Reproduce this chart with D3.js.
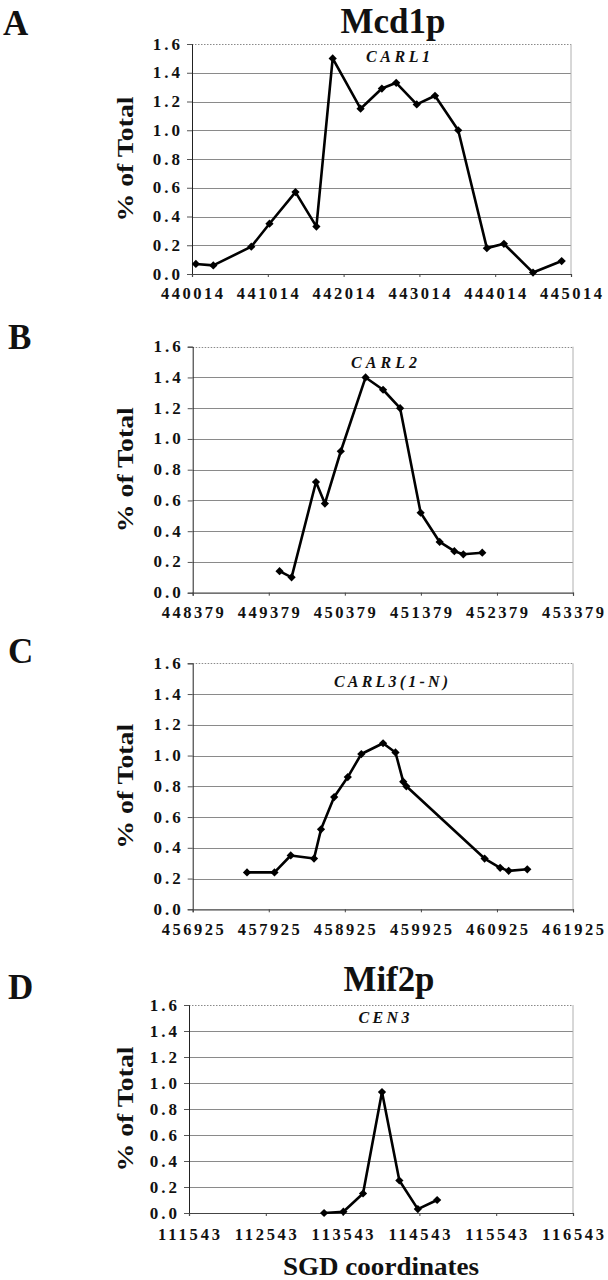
<!DOCTYPE html>
<html><head><meta charset="utf-8">
<script src="https://cdn.jsdelivr.net/npm/d3@7"></script>
<style>
html,body{margin:0;padding:0;background:#fff;}
svg{display:block;}
svg text{font-family:"Liberation Serif","DejaVu Serif","Times New Roman",serif;font-weight:bold;fill:#111;}
</style></head>
<body>
<svg id="chart" width="608" height="1280" font-family="Liberation Serif, DejaVu Serif, serif"></svg>
<script>
// ---- data ----
const yTickValues = [0, 0.2, 0.4, 0.6, 0.8, 1.0, 1.2, 1.4, 1.6];
const yTickLabels = ["0.0","0.2","0.4","0.6","0.8","1.0","1.2","1.4","1.6"];

const aTicks = [440014, 441014, 442014, 443014, 444014, 445014];
const aX = [440065, 440295, 440796, 441036, 441379, 441655, 441870, 442238, 442519, 442708, 442979, 443220, 443526, 443904, 444129, 444513, 444891];
const aY = [0.07, 0.06, 0.19, 0.35, 0.57, 0.33, 1.50, 1.15, 1.29, 1.33, 1.18, 1.24, 1.00, 0.18, 0.21, 0.01, 0.09];

const bTicks = [448379, 449379, 450379, 451379, 452379, 453379];
const bX = [449521, 449679, 450000, 450117, 450326, 450652, 450882, 451106, 451376, 451626, 451819, 451937, 452186];
const bY = [0.14, 0.10, 0.72, 0.58, 0.92, 1.40, 1.32, 1.20, 0.52, 0.33, 0.27, 0.25, 0.26];

const cTicks = [456925, 457925, 458925, 459925, 460925, 461925];
const cX = [457639, 458000, 458214, 458520, 458612, 458785, 458964, 459142, 459428, 459591, 459693, 459734, 460763, 460967, 461079, 461324];
const cY = [0.24, 0.24, 0.35, 0.33, 0.52, 0.73, 0.86, 1.01, 1.08, 1.02, 0.83, 0.80, 0.33, 0.27, 0.25, 0.26];

const dTicks = [111543, 112543, 113543, 114543, 115543, 116543];
const dX = [113302, 113553, 113809, 114056, 114282, 114523, 114774];
const dY = [0.00, 0.01, 0.15, 0.93, 0.25, 0.03, 0.10];

const panelLetters = ["A", "B", "C", "D"];
const panelTitles = ["Mcd1p", "", "", "Mif2p"];
const geneLabels = ["CARL1", "CARL2", "CARL3(1-N)", "CEN3"];
const yAxisTitle = "% of Total";
const xAxisTitle = "SGD coordinates";

// ---- layout ----
const FONT = "Liberation Serif, DejaVu Serif, serif";
const layouts = [
  {x0:192, x1:571, yT:44, yB:274, lx:3, ly:35, tx:393, ty:33, tw:105, gx:398, gy:62, gw:64, xly:299},
  {x0:192.7, x1:573, yT:346.7, yB:592.7, lx:8, ly:349, gx:384, gy:368, gw:66, xly:618},
  {x0:192.7, x1:573, yT:663.3, yB:909.3, lx:8, ly:663, gx:391, gy:687, gw:114, xly:935},
  {x0:189, x1:573, yT:1005, yB:1213, lx:8, ly:999, tx:389, ty:991, tw:91, gx:384, gy:1023, gw:51, xly:1240}
];
const datasets = [
  {ticks:aTicks, xs:aX, ys:aY},
  {ticks:bTicks, xs:bX, ys:bY},
  {ticks:cTicks, xs:cX, ys:cY},
  {ticks:dTicks, xs:dX, ys:dY}
];

const svg = d3.select("#chart");

datasets.forEach((ds, i) => {
  const L = layouts[i];
  const g = svg.append("g").attr("font-family", FONT).attr("font-weight", "bold");
  const x = d3.scaleLinear().domain([ds.ticks[0], ds.ticks[ds.ticks.length-1]]).range([L.x0, L.x1]);
  const y = d3.scaleLinear().domain([0, 1.6]).range([L.yB, L.yT]);

  // gridlines
  g.selectAll("line.grid").data(yTickValues.filter(v => v > 0)).enter().append("line")
    .attr("x1", L.x0).attr("x2", L.x1)
    .attr("y1", d => Math.round(y(d)) + 0.5).attr("y2", d => Math.round(y(d)) + 0.5)
    .attr("stroke", "#8a8a8a").attr("stroke-width", 1)
    .attr("stroke-dasharray", d => d === 1.6 ? "1.5,1.5" : null);
  // right border
  g.append("line").attr("x1", L.x1).attr("x2", L.x1).attr("y1", L.yT).attr("y2", L.yB)
    .attr("stroke", "#b0b0b0").attr("stroke-width", 1);

  // left axis
  const yAxis = d3.axisLeft(y).tickValues(yTickValues).tickSize(5).tickFormat("");
  const ya = g.append("g").attr("transform", `translate(${L.x0},0)`).call(yAxis);
  ya.select(".domain").attr("stroke", "#222").attr("stroke-width", 1);
  ya.selectAll(".tick line").attr("stroke", "#555");
  // y tick labels
  g.selectAll("text.yt").data(yTickValues).enter().append("text")
    .attr("font-family", FONT)
    .attr("x", L.x0 - 12).attr("y", d => y(d) + 5.5)
    .attr("text-anchor", "end").attr("font-size", 17).attr("letter-spacing", "3px")
    .attr("dx", 3)
    .text((d, j) => yTickLabels[j]);

  // bottom axis
  const xAxis = d3.axisBottom(x).tickValues(ds.ticks).tickSize(3).tickFormat("");
  const xa = g.append("g").attr("transform", `translate(0,${L.yB})`).call(xAxis);
  xa.select(".domain").attr("stroke", "#444").attr("stroke-width", 1.2);
  xa.selectAll(".tick line").attr("stroke", "#444");
  g.selectAll("text.xt").data(ds.ticks).enter().append("text")
    .attr("font-family", FONT)
    .attr("x", d => x(d)).attr("y", L.xly)
    .attr("text-anchor", "middle").attr("font-size", 16.5)
    .attr("textLength", 62).attr("lengthAdjust", "spacing")
    .text(d => String(d));

  // y axis title
  g.append("text")
    .attr("font-family", FONT)
    .attr("transform", `translate(133,${(L.yT + L.yB) / 2}) rotate(-90)`)
    .attr("text-anchor", "middle").attr("font-size", 24)
    .attr("textLength", 125).attr("lengthAdjust", "spacingAndGlyphs")
    .text(yAxisTitle);

  // panel letter
  g.append("text").attr("font-family", FONT).attr("x", L.lx).attr("y", L.ly).attr("font-size", 35).text(panelLetters[i]);

  // title
  if (panelTitles[i]) {
    g.append("text").attr("font-family", FONT).attr("x", L.tx).attr("y", L.ty).attr("text-anchor", "middle")
      .attr("font-size", 35).attr("textLength", L.tw).attr("lengthAdjust", "spacingAndGlyphs")
      .text(panelTitles[i]);
  }

  // gene label
  g.append("text").attr("font-family", FONT).attr("x", L.gx).attr("y", L.gy).attr("text-anchor", "middle")
    .attr("font-size", 16).attr("font-style", "italic")
    .attr("textLength", L.gw).attr("lengthAdjust", "spacing")
    .text(geneLabels[i]);

  // line
  const pts = ds.xs.map((xv, j) => [xv, ds.ys[j]]);
  const line = d3.line().x(d => x(d[0])).y(d => y(d[1]));
  g.append("path").datum(pts).attr("d", line)
    .attr("fill", "none").attr("stroke", "#000").attr("stroke-width", 2.6)
    .attr("stroke-linejoin", "round");
  const sym = d3.symbol(d3.symbolSquare, 34);
  g.selectAll("path.pt").data(pts).enter().append("path")
    .attr("d", sym)
    .attr("transform", d => `translate(${x(d[0])},${y(d[1])}) rotate(45)`)
    .attr("fill", "#000");
});

// x axis title (bottom)
svg.append("text").attr("font-family", FONT).attr("font-weight", "bold")
  .attr("x", 381).attr("y", 1275).attr("text-anchor", "middle")
  .attr("font-size", 26).attr("textLength", 196).attr("lengthAdjust", "spacingAndGlyphs")
  .text(xAxisTitle);
</script>
</body></html>
